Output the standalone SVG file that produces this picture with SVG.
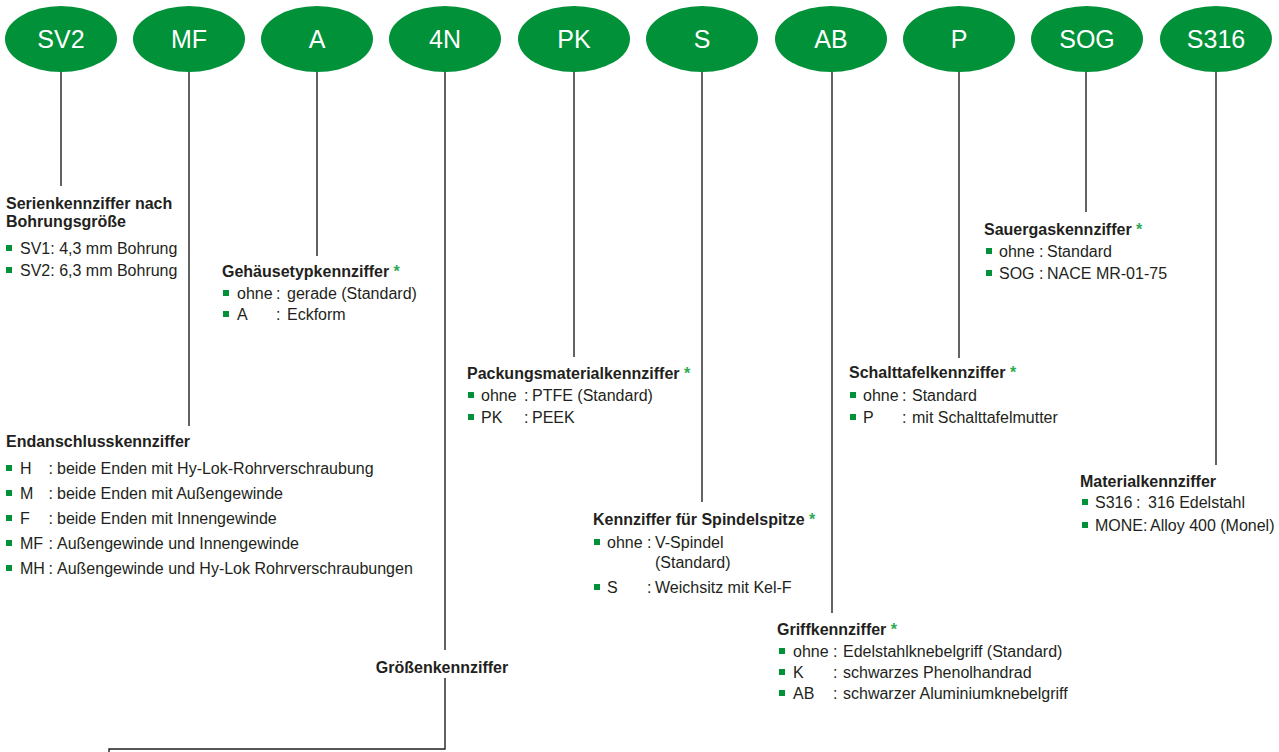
<svg xmlns="http://www.w3.org/2000/svg" width="1279" height="752" viewBox="0 0 1279 752">
<style>
text{font-family:"Liberation Sans",Arial,sans-serif;fill:#231f20;font-size:16px}
.h{font-weight:bold}
.ast{fill:#2eaa55;font-weight:bold}
.nt{fill:#fff;font-size:25px;text-anchor:middle}
.nd{fill:#009139}
.b{fill:#009139}
.c line,.c polyline{stroke:#231f20;stroke-width:1.4;fill:none}
</style>
<g class="c" id="connectors">
<line x1="61" y1="72" x2="61" y2="186"/>
<line x1="189" y1="72" x2="189" y2="426"/>
<line x1="317" y1="72" x2="317" y2="256"/>
<line x1="445" y1="72" x2="445" y2="650"/>
<polyline points="445,678 445,749 109,749 109,753"/>
<line x1="574" y1="72" x2="574" y2="357"/>
<line x1="702" y1="72" x2="702" y2="502"/>
<line x1="832" y1="72" x2="832" y2="613"/>
<line x1="959" y1="72" x2="959" y2="358"/>
<line x1="1086" y1="72" x2="1086" y2="212"/>
<line x1="1216" y1="72" x2="1216" y2="465"/>
</g>
<g id="n-sv2"><ellipse class="nd" cx="61" cy="39" rx="56" ry="33"/><text class="nt" x="61" y="48">SV2</text></g>
<g id="n-mf"><ellipse class="nd" cx="189" cy="39" rx="56" ry="33"/><text class="nt" x="189" y="48">MF</text></g>
<g id="n-a"><ellipse class="nd" cx="317" cy="39" rx="56" ry="33"/><text class="nt" x="317" y="48">A</text></g>
<g id="n-4n"><ellipse class="nd" cx="445" cy="39" rx="56" ry="33"/><text class="nt" x="445" y="48">4N</text></g>
<g id="n-pk"><ellipse class="nd" cx="574" cy="39" rx="56" ry="33"/><text class="nt" x="574" y="48">PK</text></g>
<g id="n-s"><ellipse class="nd" cx="702" cy="39" rx="56" ry="33"/><text class="nt" x="702" y="48">S</text></g>
<g id="n-ab"><ellipse class="nd" cx="831" cy="39" rx="56" ry="33"/><text class="nt" x="831" y="48">AB</text></g>
<g id="n-p"><ellipse class="nd" cx="959" cy="39" rx="56" ry="33"/><text class="nt" x="959" y="48">P</text></g>
<g id="n-sog"><ellipse class="nd" cx="1087" cy="39" rx="56" ry="33"/><text class="nt" x="1087" y="48">SOG</text></g>
<g id="n-s316"><ellipse class="nd" cx="1216" cy="39" rx="56" ry="33"/><text class="nt" x="1216" y="48">S316</text></g>

<g id="l-serien">
<text class="h" x="6" y="209">Serienkennziffer nach</text>
<text class="h" x="6" y="227">Bohrungsgröße</text>
<rect class="b" x="6" y="245" width="6" height="6"/><text x="20" y="254">SV1: 4,3 mm Bohrung</text>
<rect class="b" x="6" y="267" width="6" height="6"/><text x="20" y="276">SV2: 6,3 mm Bohrung</text>
</g>
<g id="l-gehaeuse">
<text class="h" x="222" y="277">Gehäusetypkennziffer <tspan class="ast">*</tspan></text>
<rect class="b" x="223" y="290" width="6" height="6"/><text x="237" y="299">ohne</text><text x="276" y="299">:</text><text x="287" y="299">gerade (Standard)</text>
<rect class="b" x="223" y="311" width="6" height="6"/><text x="237" y="320">A</text><text x="276" y="320">:</text><text x="287" y="320">Eckform</text>
</g>
<g id="l-endanschluss">
<text class="h" x="6" y="447">Endanschlusskennziffer</text>
<rect class="b" x="6" y="465" width="6" height="6"/><text x="20" y="474">H</text><text x="48.5" y="474">:</text><text x="57" y="474">beide Enden mit Hy-Lok-Rohrverschraubung</text>
<rect class="b" x="6" y="490" width="6" height="6"/><text x="20" y="499">M</text><text x="48.5" y="499">:</text><text x="57" y="499">beide Enden mit Außengewinde</text>
<rect class="b" x="6" y="515" width="6" height="6"/><text x="20" y="524">F</text><text x="48.5" y="524">:</text><text x="57" y="524">beide Enden mit Innengewinde</text>
<rect class="b" x="6" y="540" width="6" height="6"/><text x="20" y="549">MF</text><text x="48.5" y="549">:</text><text x="57" y="549">Außengewinde und Innengewinde</text>
<rect class="b" x="6" y="565" width="6" height="6"/><text x="20" y="574">MH</text><text x="48.5" y="574">:</text><text x="57" y="574">Außengewinde und Hy-Lok Rohrverschraubungen</text>
</g>
<g id="l-groesse">
<text class="h" x="442" y="673" text-anchor="middle">Größenkennziffer</text>
</g>
<g id="l-packung">
<text class="h" x="467" y="379">Packungsmaterialkennziffer <tspan class="ast">*</tspan></text>
<rect class="b" x="468" y="392" width="6" height="6"/><text x="481" y="401">ohne</text><text x="524" y="401">:</text><text x="532" y="401">PTFE (Standard)</text>
<rect class="b" x="468" y="414" width="6" height="6"/><text x="481" y="423">PK</text><text x="524" y="423">:</text><text x="532" y="423">PEEK</text>
</g>
<g id="l-spindel">
<text class="h" x="593" y="525">Kennziffer für Spindelspitze <tspan class="ast">*</tspan></text>
<rect class="b" x="594" y="539" width="6" height="6"/><text x="607" y="548">ohne</text><text x="647" y="548">:</text><text x="655" y="548">V-Spindel</text>
<text x="655" y="568">(Standard)</text>
<rect class="b" x="594" y="584" width="6" height="6"/><text x="607" y="593">S</text><text x="647" y="593">:</text><text x="655" y="593">Weichsitz mit Kel-F</text>
</g>
<g id="l-griff">
<text class="h" x="777" y="635">Griffkennziffer <tspan class="ast">*</tspan></text>
<rect class="b" x="779" y="648" width="6" height="6"/><text x="793" y="657">ohne</text><text x="833" y="657">:</text><text x="843" y="657">Edelstahlknebelgriff (Standard)</text>
<rect class="b" x="779" y="669" width="6" height="6"/><text x="793" y="678">K</text><text x="833" y="678">:</text><text x="843" y="678">schwarzes Phenolhandrad</text>
<rect class="b" x="779" y="690" width="6" height="6"/><text x="793" y="699">AB</text><text x="833" y="699">:</text><text x="843" y="699">schwarzer Aluminiumknebelgriff</text>
</g>
<g id="l-schalttafel">
<text class="h" x="849" y="378">Schalttafelkennziffer <tspan class="ast">*</tspan></text>
<rect class="b" x="850" y="392" width="6" height="6"/><text x="863" y="401">ohne</text><text x="902" y="401">:</text><text x="912" y="401">Standard</text>
<rect class="b" x="850" y="414" width="6" height="6"/><text x="863" y="423">P</text><text x="902" y="423">:</text><text x="912" y="423">mit Schalttafelmutter</text>
</g>
<g id="l-sauergas">
<text class="h" x="984" y="235">Sauergaskennziffer <tspan class="ast">*</tspan></text>
<rect class="b" x="986" y="248" width="6" height="6"/><text x="999" y="257">ohne</text><text x="1039" y="257">:</text><text x="1047" y="257">Standard</text>
<rect class="b" x="986" y="270" width="6" height="6"/><text x="999" y="279">SOG</text><text x="1039" y="279">:</text><text x="1047" y="279">NACE MR-01-75</text>
</g>
<g id="l-material">
<text class="h" x="1080" y="487">Materialkennziffer</text>
<rect class="b" x="1082" y="499" width="6" height="6"/><text x="1095" y="508">S316</text><text x="1136" y="508">:</text><text x="1148" y="508">316 Edelstahl</text>
<rect class="b" x="1082" y="522" width="6" height="6"/><text x="1095" y="531">MONE</text><text x="1143" y="531">:</text><text x="1150" y="531">Alloy 400 (Monel)</text>
</g>
</svg>
